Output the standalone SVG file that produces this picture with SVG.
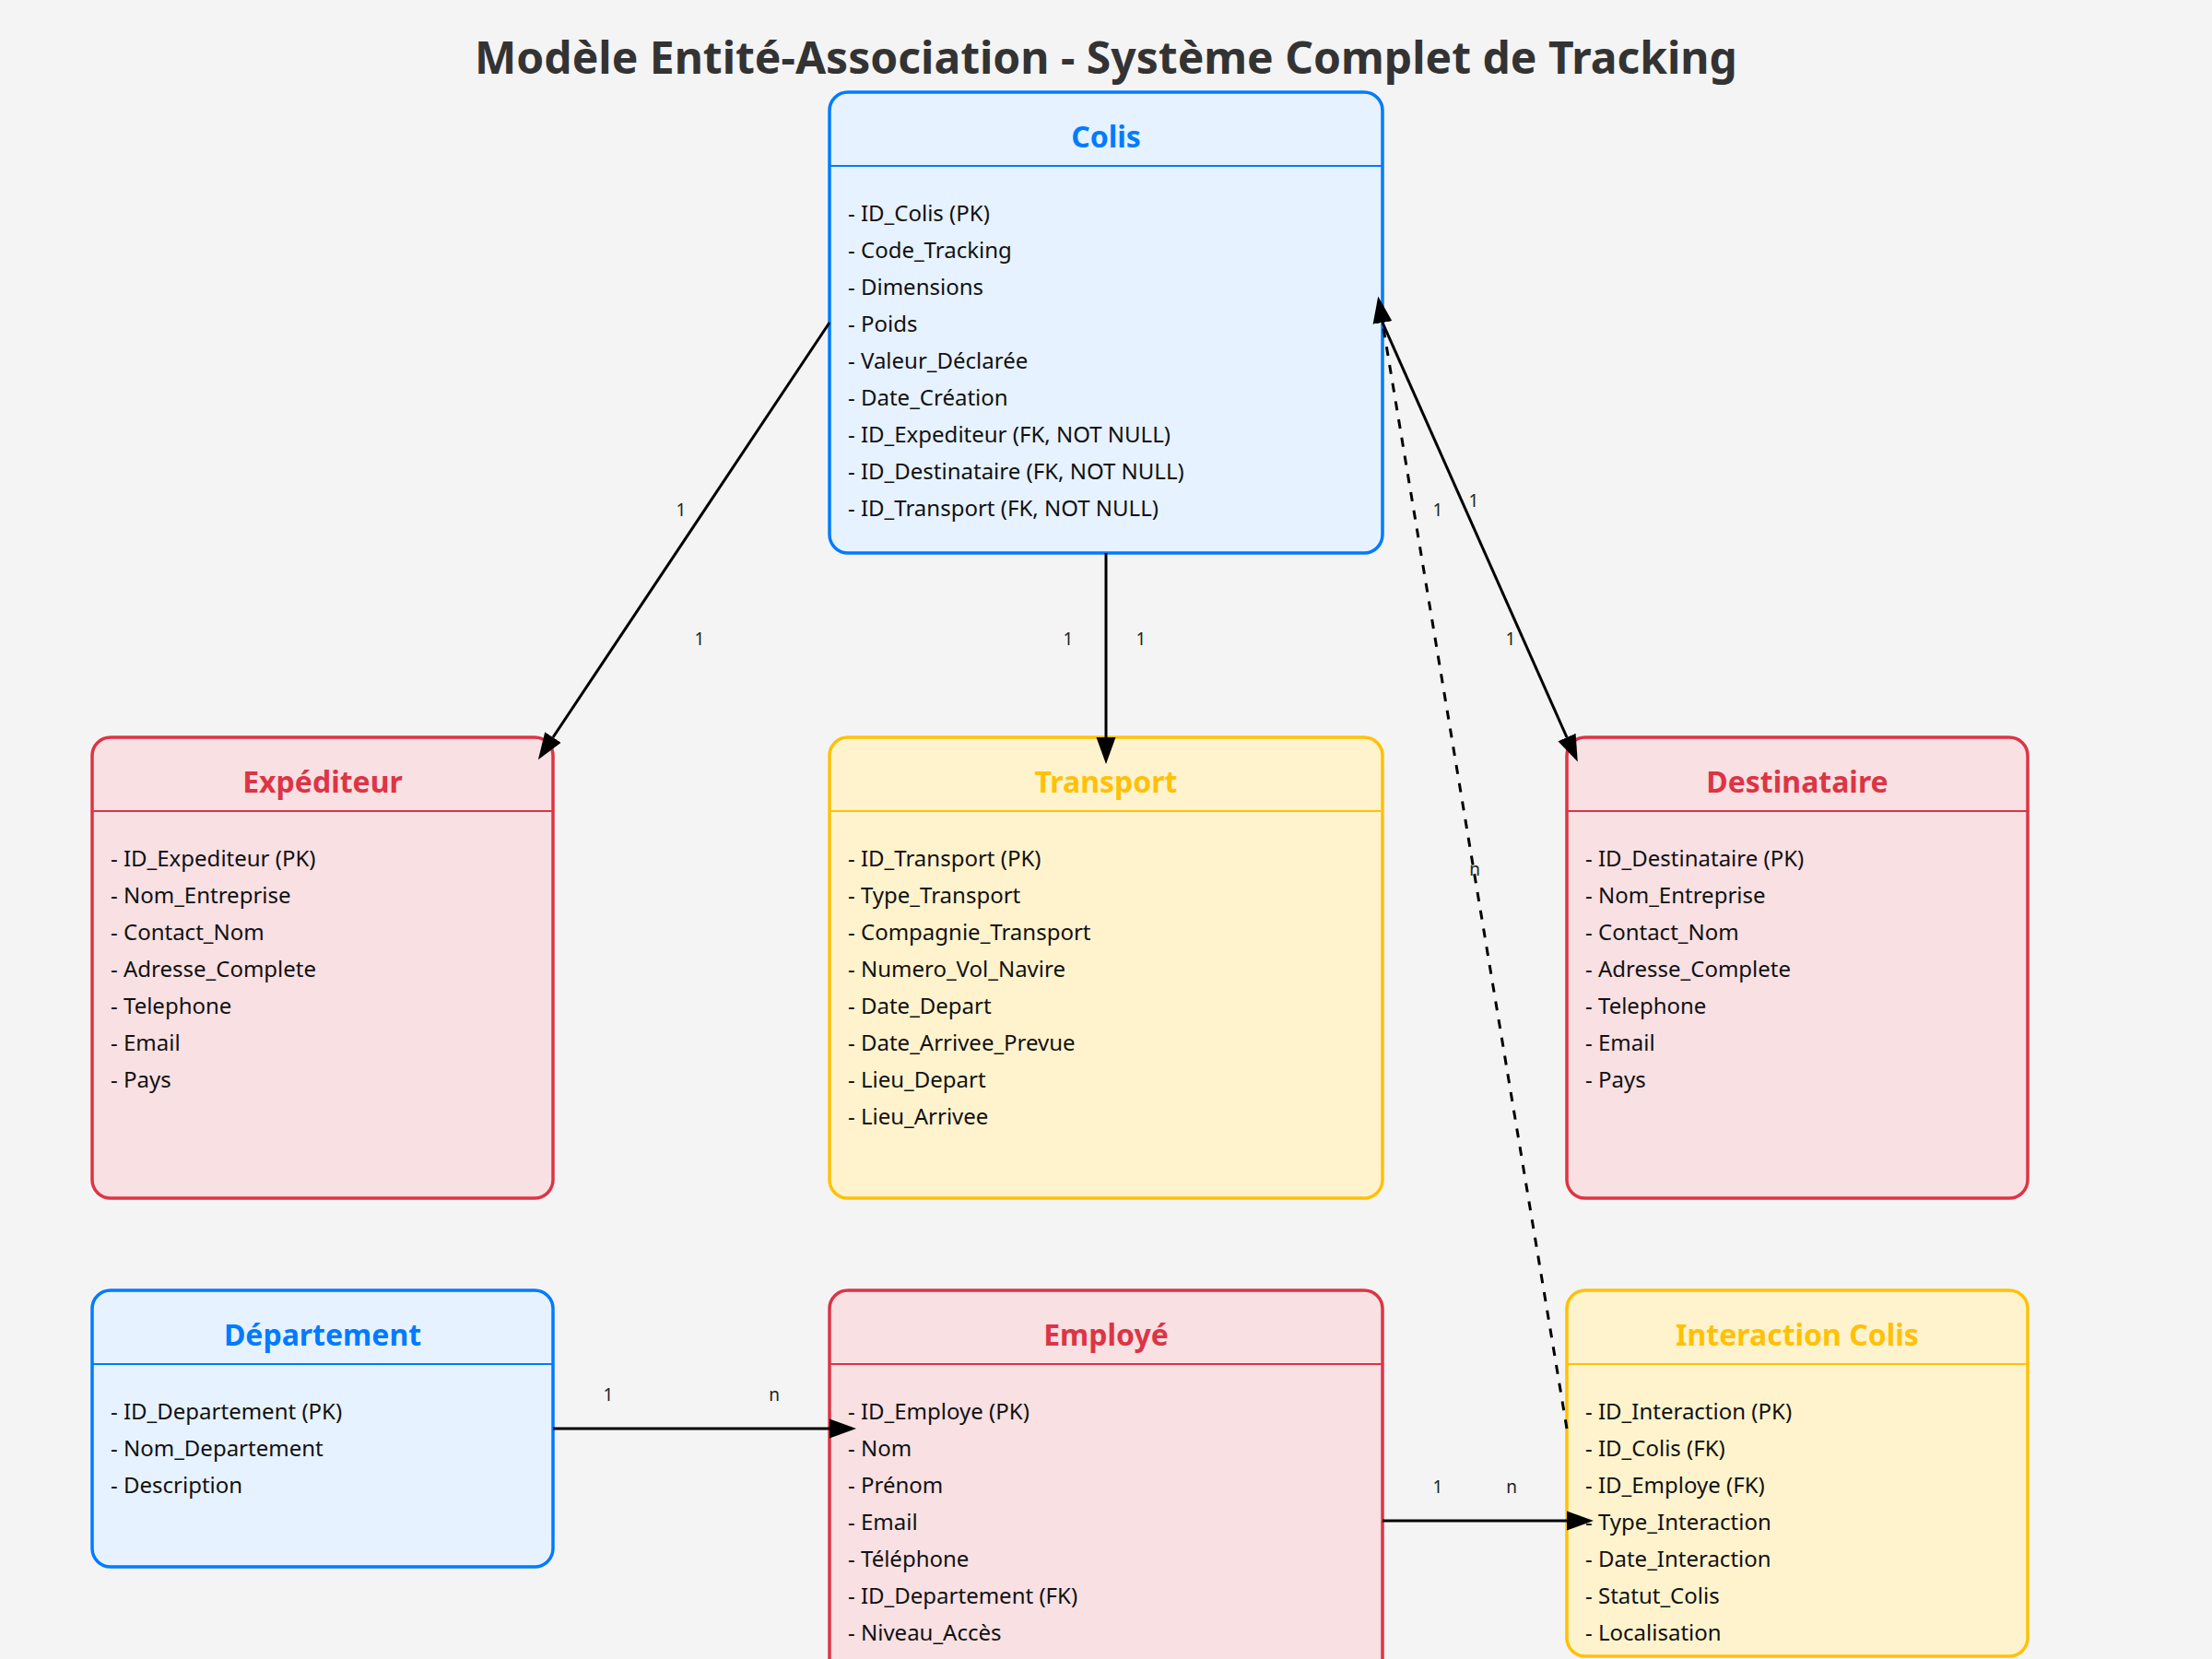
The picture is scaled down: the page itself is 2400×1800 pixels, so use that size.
<svg xmlns="http://www.w3.org/2000/svg" width="2400" height="1800" viewBox="0 0 2400 1800">
<style>
.bg{fill:#f4f4f4}
.box{stroke-width:3.5}
.blue{fill:#e6f2ff;stroke:#007bff}
.red{fill:#f8e0e3;stroke:#dc3545}
.yellow{fill:#fff3cd;stroke:#ffc107}
.sep{stroke-width:2}
.hblue{stroke:#007bff}.hred{stroke:#dc3545}.hyellow{stroke:#ffc107}
.t{font-family:"Noto Sans","Open Sans",sans-serif;font-size:32px;font-weight:bold;text-anchor:middle}
.tblue{fill:#007bff}.tred{fill:#dc3545}.tyellow{fill:#ffc107}
.a{font-family:"Noto Sans","Open Sans",sans-serif;font-size:24px;fill:#111}
.lbl{font-family:"Noto Sans","Open Sans",sans-serif;font-size:19px;fill:#222;text-anchor:middle}
.ln{fill:none;stroke:#000;stroke-width:3;marker-end:url(#arr)}
.dash{stroke-dasharray:10,10}
.title{font-family:"Noto Sans","Open Sans",sans-serif;font-size:48px;font-weight:bold;fill:#333;text-anchor:middle}
</style>
<defs>
<marker id="arr" markerUnits="userSpaceOnUse" markerWidth="30" markerHeight="22" refX="0" refY="11" orient="auto">
<path d="M0,0.5 L29,11 L0,21.5 z" fill="#000"/>
</marker>
</defs>
<rect class="bg" x="0" y="0" width="2400" height="1800"/>
<text class="title" x="1200" y="80">Modèle Entité-Association - Système Complet de Tracking</text>

<g id="colis">
<rect class="box blue" x="900" y="100" width="600" height="500" rx="20"/>
<line class="sep hblue" x1="900" y1="180" x2="1500" y2="180"/>
<text class="t tblue" x="1200" y="160">Colis</text>
<text class="a" x="920" y="240">- ID_Colis (PK)</text>
<text class="a" x="920" y="280">- Code_Tracking</text>
<text class="a" x="920" y="320">- Dimensions</text>
<text class="a" x="920" y="360">- Poids</text>
<text class="a" x="920" y="400">- Valeur_Déclarée</text>
<text class="a" x="920" y="440">- Date_Création</text>
<text class="a" x="920" y="480">- ID_Expediteur (FK, NOT NULL)</text>
<text class="a" x="920" y="520">- ID_Destinataire (FK, NOT NULL)</text>
<text class="a" x="920" y="560">- ID_Transport (FK, NOT NULL)</text>
</g>

<g id="expediteur">
<rect class="box red" x="100" y="800" width="500" height="500" rx="20"/>
<line class="sep hred" x1="100" y1="880" x2="600" y2="880"/>
<text class="t tred" x="350" y="860">Expéditeur</text>
<text class="a" x="120" y="940">- ID_Expediteur (PK)</text>
<text class="a" x="120" y="980">- Nom_Entreprise</text>
<text class="a" x="120" y="1020">- Contact_Nom</text>
<text class="a" x="120" y="1060">- Adresse_Complete</text>
<text class="a" x="120" y="1100">- Telephone</text>
<text class="a" x="120" y="1140">- Email</text>
<text class="a" x="120" y="1180">- Pays</text>
</g>

<g id="transport">
<rect class="box yellow" x="900" y="800" width="600" height="500" rx="20"/>
<line class="sep hyellow" x1="900" y1="880" x2="1500" y2="880"/>
<text class="t tyellow" x="1200" y="860">Transport</text>
<text class="a" x="920" y="940">- ID_Transport (PK)</text>
<text class="a" x="920" y="980">- Type_Transport</text>
<text class="a" x="920" y="1020">- Compagnie_Transport</text>
<text class="a" x="920" y="1060">- Numero_Vol_Navire</text>
<text class="a" x="920" y="1100">- Date_Depart</text>
<text class="a" x="920" y="1140">- Date_Arrivee_Prevue</text>
<text class="a" x="920" y="1180">- Lieu_Depart</text>
<text class="a" x="920" y="1220">- Lieu_Arrivee</text>
</g>

<g id="destinataire">
<rect class="box red" x="1700" y="800" width="500" height="500" rx="20"/>
<line class="sep hred" x1="1700" y1="880" x2="2200" y2="880"/>
<text class="t tred" x="1950" y="860">Destinataire</text>
<text class="a" x="1720" y="940">- ID_Destinataire (PK)</text>
<text class="a" x="1720" y="980">- Nom_Entreprise</text>
<text class="a" x="1720" y="1020">- Contact_Nom</text>
<text class="a" x="1720" y="1060">- Adresse_Complete</text>
<text class="a" x="1720" y="1100">- Telephone</text>
<text class="a" x="1720" y="1140">- Email</text>
<text class="a" x="1720" y="1180">- Pays</text>
</g>

<g id="departement">
<rect class="box blue" x="100" y="1400" width="500" height="300" rx="20"/>
<line class="sep hblue" x1="100" y1="1480" x2="600" y2="1480"/>
<text class="t tblue" x="350" y="1460">Département</text>
<text class="a" x="120" y="1540">- ID_Departement (PK)</text>
<text class="a" x="120" y="1580">- Nom_Departement</text>
<text class="a" x="120" y="1620">- Description</text>
</g>

<g id="employe">
<rect class="box red" x="900" y="1400" width="600" height="500" rx="20"/>
<line class="sep hred" x1="900" y1="1480" x2="1500" y2="1480"/>
<text class="t tred" x="1200" y="1460">Employé</text>
<text class="a" x="920" y="1540">- ID_Employe (PK)</text>
<text class="a" x="920" y="1580">- Nom</text>
<text class="a" x="920" y="1620">- Prénom</text>
<text class="a" x="920" y="1660">- Email</text>
<text class="a" x="920" y="1700">- Téléphone</text>
<text class="a" x="920" y="1740">- ID_Departement (FK)</text>
<text class="a" x="920" y="1780">- Niveau_Accès</text>
</g>

<g id="interaction">
<rect class="box yellow" x="1700" y="1400" width="500" height="397" rx="20"/>
<line class="sep hyellow" x1="1700" y1="1480" x2="2200" y2="1480"/>
<text class="t tyellow" x="1950" y="1460">Interaction Colis</text>
<text class="a" x="1720" y="1540">- ID_Interaction (PK)</text>
<text class="a" x="1720" y="1580">- ID_Colis (FK)</text>
<text class="a" x="1720" y="1620">- ID_Employe (FK)</text>
<text class="a" x="1720" y="1660">- Type_Interaction</text>
<text class="a" x="1720" y="1700">- Date_Interaction</text>
<text class="a" x="1720" y="1740">- Statut_Colis</text>
<text class="a" x="1720" y="1780">- Localisation</text>
</g>

<g id="connectors">
<line class="ln" x1="900" y1="350" x2="600" y2="800"/>
<text class="lbl" x="739" y="560">1</text>
<text class="lbl" x="759" y="700">1</text>
<line class="ln" x1="1200" y1="600" x2="1200" y2="800"/>
<text class="lbl" x="1159" y="700">1</text>
<text class="lbl" x="1238" y="700">1</text>
<line class="ln" x1="1500" y1="350" x2="1700" y2="800"/>
<text class="lbl" x="1599" y="550">1</text>
<text class="lbl" x="1639" y="700">1</text>
<line class="ln dash" x1="1700" y1="1550" x2="1500" y2="350"/>
<text class="lbl" x="1560" y="560">1</text>
<text class="lbl" x="1600" y="950">n</text>
<line class="ln" x1="600" y1="1550" x2="900" y2="1550"/>
<text class="lbl" x="660" y="1520">1</text>
<text class="lbl" x="840" y="1520">n</text>
<line class="ln" x1="1500" y1="1650" x2="1700" y2="1650"/>
<text class="lbl" x="1560" y="1620">1</text>
<text class="lbl" x="1640" y="1620">n</text>
</g>
</svg>
